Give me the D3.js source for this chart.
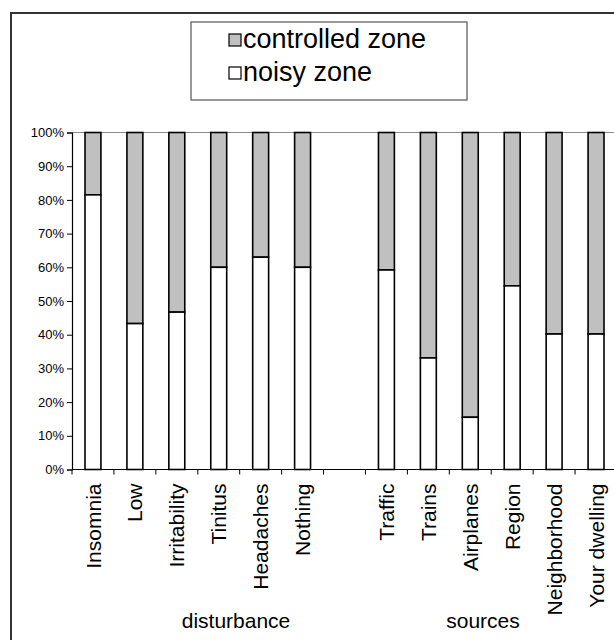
<!DOCTYPE html>
<html>
<head>
<meta charset="utf-8">
<script src="https://cdn.jsdelivr.net/npm/d3@7"></script>
<style>
  html, body { margin: 0; padding: 0; background: #fff; }
  svg { display: block; }
  text { font-family: Arial, "Liberation Sans", sans-serif; fill: #000; }
</style>
</head>
<body>
<svg id="chart" width="614" height="640"></svg>
<script>
// Categories along the x axis (a blank slot separates the two groups)
const categories = ["Insomnia", "Low", "Irritability", "Tinitus", "Headaches", "Nothing", "",
                    "Traffic", "Trains", "Airplanes", "Region", "Neighborhood", "Your dwelling"];
// Share of answers from the noisy zone (%), per category
const noisyZone = [81.5, 43.3, 46.7, 60, 63, 60, null, 59.2, 33.1, 15.5, 54.5, 40.2, 40.2];
// Share of answers from the controlled zone (%), the remainder of each bar
const controlledZone = noisyZone.map(v => v == null ? null : 100 - v);
const yTicks = [0, 10, 20, 30, 40, 50, 60, 70, 80, 90, 100];
const seriesNames = ["controlled zone", "noisy zone"];
const seriesColors = ["#c0c0c0", "#ffffff"];
const groupLabels = ["disturbance", "sources"];

const svg = d3.select("#chart");

// outer chart frame
svg.append("rect")
  .attr("x", 11).attr("y", 13).attr("width", 640).attr("height", 660)
  .attr("fill", "none").attr("stroke", "#333").attr("stroke-width", 2);

const plotLeft = 72, plotRight = 617, plotTop = 132.5, plotBottom = 469.5;

const x = d3.scaleBand().domain(categories).range([plotLeft, plotRight])
  .paddingInner(0.62).paddingOuter(0.31);
const y = d3.scaleLinear().domain([0, 100]).range([plotBottom, plotTop]);
const step = x.step();

// 100% line across the plot
svg.append("line")
  .attr("x1", plotLeft).attr("x2", 614).attr("y1", y(100)).attr("y2", y(100))
  .attr("stroke", "#8c8c8c").attr("stroke-width", 1.2);

// stacked bars
const rows = categories.map((c, i) => ({ c, noisy: noisyZone[i], ctrl: controlledZone[i] }))
  .filter(d => d.noisy != null);

const g = svg.append("g");
g.selectAll("rect.ctrl").data(rows).join("rect")
  .attr("class", "ctrl")
  .attr("x", d => x(d.c)).attr("width", x.bandwidth())
  .attr("y", d => y(d.noisy + d.ctrl)).attr("height", d => y(d.noisy) - y(d.noisy + d.ctrl))
  .attr("fill", seriesColors[0]).attr("stroke", "#000").attr("stroke-width", 1.6);
g.selectAll("rect.noisy").data(rows).join("rect")
  .attr("class", "noisy")
  .attr("x", d => x(d.c)).attr("width", x.bandwidth())
  .attr("y", d => y(d.noisy)).attr("height", d => y(0) - y(d.noisy))
  .attr("fill", seriesColors[1]).attr("stroke", "#000").attr("stroke-width", 1.6);

// y axis
const yAxis = d3.axisLeft(y).tickValues(yTicks).tickFormat(d => d + "%").tickSize(5).tickPadding(3);
const ya = svg.append("g").attr("transform", `translate(${plotLeft},0)`).call(yAxis);
ya.select(".domain").attr("stroke", "#000").attr("stroke-width", 1.2);
ya.selectAll(".tick line").attr("stroke", "#000");
ya.selectAll(".tick text").style("font-size", "13px").attr("font-family", "Arial, 'Liberation Sans', sans-serif");

// x axis line with boundary ticks
svg.append("line")
  .attr("x1", plotLeft).attr("x2", 614).attr("y1", plotBottom).attr("y2", plotBottom)
  .attr("stroke", "#000").attr("stroke-width", 1.2);
const boundaries = categories.map(c => x(c) - step * 0.31);
svg.selectAll("line.xtick").data(boundaries).join("line")
  .attr("class", "xtick")
  .attr("x1", d => d).attr("x2", d => d).attr("y1", plotBottom).attr("y2", plotBottom + 5)
  .attr("stroke", "#000").attr("stroke-width", 1);

// rotated category labels
const labelSize = 21;
svg.selectAll("text.xlab").data(categories.filter(c => c !== "")).join("text")
  .attr("class", "xlab")
  .attr("transform", c => `translate(${x(c) + x.bandwidth() / 2 + labelSize * 0.36},${plotBottom + 14}) rotate(-90)`)
  .attr("text-anchor", "end")
  .style("font-size", labelSize + "px")
  .text(c => c);

// group captions
svg.append("text").attr("x", 236).attr("y", 628).attr("text-anchor", "middle")
  .style("font-size", "21px").text(groupLabels[0]);
svg.append("text").attr("x", 483).attr("y", 628).attr("text-anchor", "middle")
  .style("font-size", "21px").text(groupLabels[1]);

// legend
const lg = svg.append("g");
lg.append("rect").attr("x", 191).attr("y", 22).attr("width", 276).attr("height", 78)
  .attr("fill", "#fff").attr("stroke", "#555").attr("stroke-width", 1.2);
seriesNames.forEach((name, i) => {
  const yy = 34 + i * 33;
  lg.append("rect").attr("x", 229).attr("y", yy).attr("width", 12).attr("height", 12)
    .attr("fill", seriesColors[i]).attr("stroke", "#000").attr("stroke-width", 1.2);
  lg.append("text").attr("x", 243).attr("y", yy + 14)
    .style("font-size", "27px").text(name);
});
</script>
</body>
</html>
